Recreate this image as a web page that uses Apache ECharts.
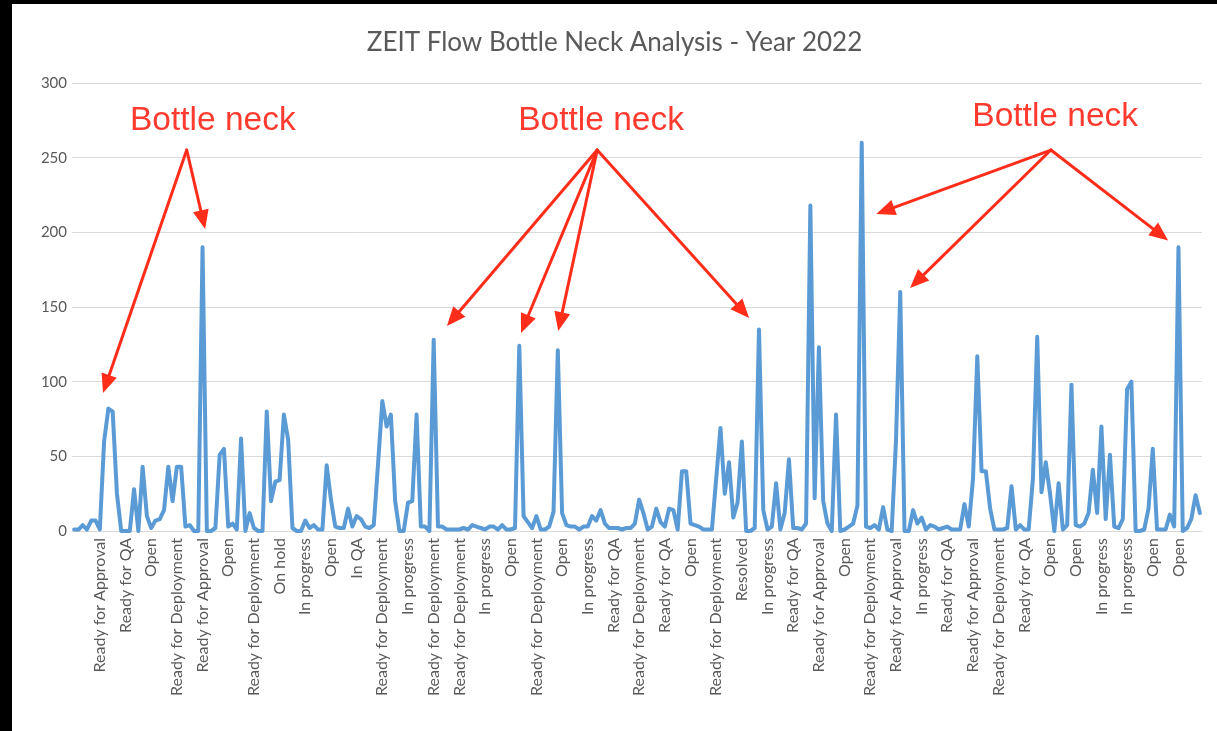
<!DOCTYPE html>
<html><head><meta charset="utf-8">
<script src="https://cdn.jsdelivr.net/npm/echarts@6/dist/echarts.min.js"></script>
<style>
html,body{margin:0;padding:0;background:#000;width:1217px;height:731px;overflow:hidden}
#chart{position:absolute;left:12px;top:4px;width:1205px;height:727px;background:#fff}
</style></head><body><div id="chart"></div>
<script>
// Category labels shown on the axis (every 6th category)
const tickLabels = [
  'Ready for Approval','Ready for QA','Open','Ready for Deployment','Ready for Approval','Open',
  'Ready for Deployment','On hold','In progress','Open','In QA','Ready for Deployment','In progress',
  'Ready for Deployment','Ready for Deployment','In progress','Open','Ready for Deployment','Open',
  'In progress','Ready for QA','Ready for Deployment','Ready for QA','Open','Ready for Deployment',
  'Resolved','In progress','Ready for QA','Ready for Approval','Open','Ready for Deployment',
  'Ready for Approval','In progress','Ready for QA','Ready for Approval','Ready for Deployment',
  'Ready for QA','Open','Open','In progress','In progress','Open','Open'
];
const labelStep = 6;

// Series values (one per ticket/category)
const values = [
  1,1,4,1,7,7,1,60,82,80, 25,0,0,0,28,0,43,10,2,7,
  8,14,43,20,43,43,3,4,0,0, 190,0,0,2,51,55,3,5,1,62,
  0,12,2,0,0,80,20,33,34,78, 61,2,0,0,7,2,4,1,1,44,
  21,3,2,2,15,3,10,8,3,2, 4,45,87,70,78,20,0,0,19,20,
  78,3,3,0,128,3,3,1,1,1, 1,2,1,4,3,2,1,3,3,1,
  4,1,1,2,124,10,6,2,10,1, 1,3,13,121,12,4,3,3,1,3,
  3,10,7,14,5,2,2,2,1,2, 2,5,21,12,1,3,15,6,3,15,
  14,1,40,40,5,4,3,1,1,1, 35,69,25,46,9,19,60,0,0,2,
  135,14,1,3,32,1,12,48,2,2, 1,5,218,22,123,20,5,0,78,0,
  1,3,5,17,260,3,2,4,1,16, 1,0,60,160,0,0,14,5,9,1,
  4,3,1,2,3,1,1,1,18,3, 35,117,40,40,15,1,1,1,2,30,
  1,4,1,1,35,130,26,46,25,0, 32,1,4,98,4,3,5,12,41,12,
  70,8,51,3,2,8,95,100,0,0, 1,15,55,1,1,1,11,3,190,0,
  2,8,24,12
];

const yMin = 0, yMax = 300, yStep = 50;
const titleText = 'ZEIT Flow Bottle Neck Analysis - Year 2022';

// Category names: labelled ones known, others unreadable (blank)
const categories = values.map((_, i) =>
  (i > 0 && i % labelStep === 0 && tickLabels[i / labelStep - 1]) ? tickLabels[i / labelStep - 1] : '');

// Annotations in data coordinates [category index, value]
const notes = [
  { text: 'Bottle neck', at: [32.4, 274.6], from: [26.3, 255.1], tips: [[6.74, 92.4], [30.6, 202.2]] },
  { text: 'Bottle neck', at: [123.1, 274.6], from: [122.2, 255.1], tips: [[87.1, 137.3], [104.4, 132.6], [113.1, 133.9], [157.7, 142.6]] },
  { text: 'Bottle neck', at: [229.2, 277.2], from: [228.2, 255.1], tips: [[187.4, 212.3], [195.3, 162.7], [255.6, 194.5]] }
];

const chart = echarts.init(document.getElementById('chart'), null, { renderer: 'canvas' });
const grey = '#595959';
chart.setOption({
  animation: false,
  backgroundColor: '#ffffff',
  title: {
    text: titleText, left: 'center', top: 21,
    textStyle: { fontFamily: 'Lato', fontSize: 26, fontWeight: 'normal', color: grey }
  },
  grid: { left: 60, right: 15, top: 79, bottom: 200, containLabel: false },
  xAxis: {
    type: 'category', data: categories, boundaryGap: true,
    axisLine: { lineStyle: { color: '#D9D9D9', width: 1 } },
    axisTick: { show: false },
    axisLabel: {
      rotate: 90, margin: 7, color: grey, fontFamily: 'Lato', fontSize: 16,
      interval: (i) => i > 0 && i % labelStep === 0
    }
  },
  yAxis: {
    type: 'value', min: yMin, max: yMax, interval: yStep,
    axisLine: { show: false }, axisTick: { show: false },
    axisLabel: { color: grey, fontFamily: 'Lato', fontSize: 15, margin: 5 },
    splitLine: { lineStyle: { color: '#D9D9D9', width: 1 } }
  },
  series: [{
    type: 'line', data: values, symbol: 'none', showSymbol: false,
    lineStyle: { color: '#5B9BD5', width: 4, join: 'round', cap: 'round' },
    itemStyle: { color: '#5B9BD5' }
  }]
});

// Map fractional data coordinates to pixels using the chart's own scales
const pA = chart.convertToPixel({ gridIndex: 0 }, [0, yMin]);
const pB = chart.convertToPixel({ gridIndex: 0 }, [values.length - 1, yMax]);
const toPx = (d) => [
  pA[0] + (d[0] / (values.length - 1)) * (pB[0] - pA[0]),
  pA[1] + ((d[1] - yMin) / (yMax - yMin)) * (pB[1] - pA[1])
];

const red = '#FF2D1A';
const elements = [];
notes.forEach(n => {
  const c = toPx(n.at);
  elements.push({
    type: 'text', x: c[0], y: c[1],
    style: { text: n.text, fill: '#FF3B30', font: '33.5px "Liberation Sans", Arial, sans-serif', align: 'center', verticalAlign: 'middle' }
  });
  const o = toPx(n.from);
  n.tips.forEach(t => {
    const p = toPx(t);
    const dx = p[0] - o[0], dy = p[1] - o[1];
    const L = Math.hypot(dx, dy), ux = dx / L, uy = dy / L;
    const head = 19, half = 8;
    const bx = p[0] - ux * head, by = p[1] - uy * head;
    elements.push({
      type: 'line', shape: { x1: o[0], y1: o[1], x2: bx + ux * 2, y2: by + uy * 2 },
      style: { stroke: red, lineWidth: 3, lineCap: 'round' }
    });
    elements.push({
      type: 'polygon',
      shape: { points: [[p[0], p[1]], [bx - uy * half, by + ux * half], [bx + uy * half, by - ux * half]] },
      style: { fill: red }
    });
  });
});
chart.setOption({ graphic: { elements } });
</script></body></html>
